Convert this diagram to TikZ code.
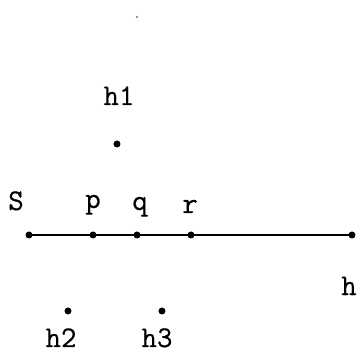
\documentclass[tikz,border=0pt]{standalone}
\usepackage{fontspec}
\newfontfamily\lblfont[FakeBold=0.5]{Latin Modern Mono}
\begin{document}
\begin{tikzpicture}[x=1pt,y=-1pt,
  pt/.style={circle,fill=black,inner sep=0pt,minimum size=7pt},
  lbl/.style={font=\lblfont\fontsize{30}{30}\selectfont,inner sep=0pt,anchor=base},
  seg/.style={line width=1.8pt}]
\useasboundingbox (0,0) rectangle (360,356);
\fill[black!55] (137,17) circle (1.2pt);
\node[pt] (S) at (29,235) {};
\node[pt] (p) at (93,235) {};
\node[pt] (q) at (137,235) {};
\node[pt] (r) at (191,235) {};
\node[pt] (h) at (352,235) {};
\node[pt] (h1) at (117,144) {};
\node[pt] (h2) at (68,311) {};
\node[pt] (h3) at (162,311) {};
\draw[seg] (S.center) -- (p.center) -- (q.center) -- (r.center) -- (h.center);
\node[lbl] (lS) at (16,210) {S};
\node[lbl] (lp) at (93,208) {p};
\node[lbl] (lq) at (140,210) {q};
\node[lbl] (lr) at (190,213) {r};
\node[lbl] (lh) at (349,295) {h};
\node[lbl] (lh1) at (119,105) {h1};
\node[lbl] (lh2) at (61,347) {h2};
\node[lbl] (lh3) at (157,347) {h3};
\end{tikzpicture}
\end{document}
